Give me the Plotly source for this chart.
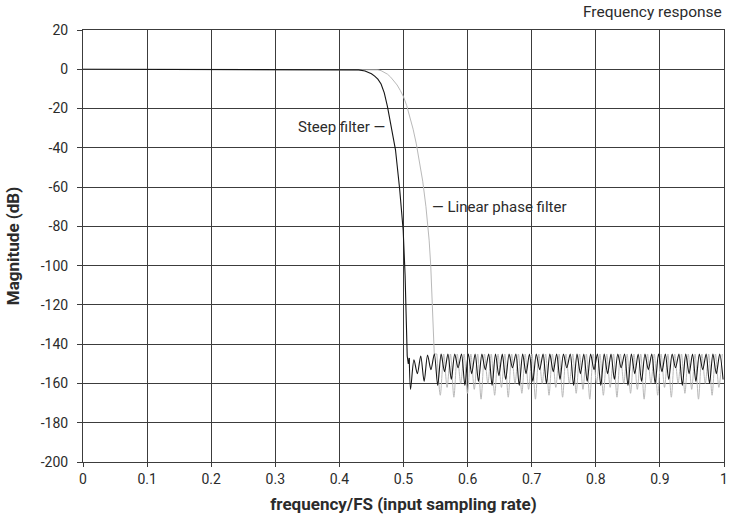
import plotly.graph_objects as go

# ---------------- data ----------------
# Steep filter: passband + transition band
steep_trans_f = [0.0, 0.1, 0.2, 0.3, 0.4, 0.42, 0.43, 0.44, 0.45, 0.455, 0.46, 0.465, 0.47,
                 0.475, 0.48, 0.4875, 0.494, 0.4995, 0.5025, 0.5045, 0.5058, 0.5075, 0.509]
steep_trans_db = [0, 0, 0, 0, 0, -0.1, -0.3, -0.9, -2.3, -3.5, -5.0, -7.5, -12,
                  -19, -28, -41, -61, -82, -105, -128, -146, -150, -147]
# Steep filter: stopband nulls and peaks
steep_null_f = [0.5110, 0.5216, 0.5322, 0.5428, 0.5534, 0.5640, 0.5746, 0.5852, 0.5958, 0.6064,
                0.6170, 0.6276, 0.6382, 0.6488, 0.6594, 0.6700, 0.6806, 0.6912, 0.7018, 0.7124,
                0.7230, 0.7336, 0.7442, 0.7548, 0.7654, 0.7760, 0.7866, 0.7972, 0.8078, 0.8184,
                0.8290, 0.8396, 0.8502, 0.8608, 0.8714, 0.8820, 0.8926, 0.9032, 0.9138, 0.9244,
                0.9350, 0.9456, 0.9562, 0.9668, 0.9774, 0.9880, 0.9986]
steep_null_db = [-163, -155, -159, -153, -161, -154, -158, -152, -161, -155,
                 -159, -153, -161, -156, -158, -152, -161, -155, -159, -153,
                 -160, -154, -158, -152, -161, -155, -159, -153, -161, -155,
                 -158, -152, -161, -155, -159, -153, -160, -154, -158, -152,
                 -161, -155, -159, -153, -160, -155, -158]
steep_peak_f = [0.5163, 0.5269, 0.5375, 0.5481, 0.5587, 0.5693, 0.5799, 0.5905, 0.6011, 0.6117,
                0.6223, 0.6329, 0.6435, 0.6541, 0.6647, 0.6753, 0.6859, 0.6965, 0.7071, 0.7177,
                0.7283, 0.7389, 0.7495, 0.7601, 0.7707, 0.7813, 0.7919, 0.8025, 0.8131, 0.8237,
                0.8343, 0.8449, 0.8555, 0.8661, 0.8767, 0.8873, 0.8979, 0.9085, 0.9191, 0.9297,
                0.9403, 0.9509, 0.9615, 0.9721, 0.9827, 0.9933]
steep_peak_db = [-148, -146, -145.5, -145, -145, -145, -145, -145, -145, -145,
                 -145, -145, -145, -145, -145, -145, -145, -145, -145, -145,
                 -145, -145, -145, -145, -145, -145, -145, -145, -145, -145,
                 -145, -145, -145, -145, -145, -145, -145, -145, -145, -145,
                 -145, -145, -145, -145, -145, -145]

# Linear phase filter: passband + transition band
lin_trans_f = [0.0, 0.1, 0.2, 0.3, 0.4, 0.45, 0.455, 0.46, 0.465, 0.47, 0.475, 0.48,
               0.485, 0.49, 0.495, 0.50, 0.505, 0.51, 0.515, 0.52, 0.525, 0.53,
               0.535, 0.54, 0.5425, 0.545, 0.548, 0.5521]
lin_trans_db = [0, 0, 0, 0, 0, 0, -0.1, -0.3, -0.7, -1.4, -2.5, -4.0,
                -5.8, -8.0, -10.8, -14, -18.5, -24, -30.5, -38, -47, -57,
                -70, -87, -100, -118, -145, -145]
# Linear phase filter: stopband peaks and nulls
lin_peak_f = [0.5627, 0.5733, 0.5839, 0.5945, 0.6051, 0.6157, 0.6263, 0.6369, 0.6475,
              0.6581, 0.6687, 0.6793, 0.6899, 0.7005, 0.7111, 0.7217, 0.7323, 0.7429, 0.7535,
              0.7641, 0.7747, 0.7853, 0.7959, 0.8065, 0.8171, 0.8277, 0.8383, 0.8489, 0.8595,
              0.8701, 0.8807, 0.8913, 0.9019, 0.9125, 0.9231, 0.9337, 0.9443, 0.9549, 0.9655,
              0.9761, 0.9867, 0.9973]
lin_peak_db = [-145, -145, -145, -145, -145, -145, -145, -145, -145,
               -145, -145, -145, -145, -145, -145, -145, -145, -145, -145,
               -145, -145, -145, -145, -145, -145, -145, -145, -145, -145,
               -145, -145, -145, -145, -145, -145, -145, -145, -145, -145,
               -145, -145, -145]
lin_null_f = [0.5574, 0.5680, 0.5786, 0.5892, 0.5998, 0.6104, 0.6210, 0.6316, 0.6422, 0.6528,
              0.6634, 0.6740, 0.6846, 0.6952, 0.7058, 0.7164, 0.7270, 0.7376, 0.7482, 0.7588,
              0.7694, 0.7800, 0.7906, 0.8012, 0.8118, 0.8224, 0.8330, 0.8436, 0.8542, 0.8648,
              0.8754, 0.8860, 0.8966, 0.9072, 0.9178, 0.9284, 0.9390, 0.9496, 0.9602, 0.9708,
              0.9814, 0.9920]
lin_null_db = [-166, -162, -167, -160, -165, -163, -168, -160, -166, -162,
               -167, -160, -165, -163, -168, -160, -166, -162, -167, -160,
               -165, -163, -168, -160, -166, -162, -167, -160, -165, -163,
               -168, -160, -166, -162, -167, -160, -165, -163, -168, -160,
               -166, -162]

x_ticks = [0, 0.1, 0.2, 0.3, 0.4, 0.5, 0.6, 0.7, 0.8, 0.9, 1]
x_tick_text = ["0", "0.1", "0.2", "0.3", "0.4", "0.5", "0.6", "0.7", "0.8", "0.9", "1"]
y_ticks = [20, 0, -20, -40, -60, -80, -100, -120, -140, -160, -180, -200]
y_tick_text = ["20", "0", "-20", "-40", "-60", "-80", "-100", "-120", "-140", "-160", "-180", "-200"]


def interleave(af, adb, bf, bdb):
    pts = sorted(list(zip(af, adb)) + list(zip(bf, bdb)))
    return [p[0] for p in pts], [p[1] for p in pts]


sf, sdb = interleave(steep_null_f, steep_null_db, steep_peak_f, steep_peak_db)
lf, ldb = interleave(lin_null_f, lin_null_db, lin_peak_f, lin_peak_db)

FONT = "Roboto, 'Open Sans', sans-serif"
TXT = "#2b2b2b"
GRID = "#3c3c3c"
GRAY = "#b9b9b9"
BLACK = "#161616"

fig = go.Figure()
# linear phase filter (light grey)
fig.add_trace(go.Scatter(x=lin_trans_f, y=lin_trans_db, mode="lines",
                         line=dict(color=GRAY, width=1), showlegend=False, hoverinfo="skip"))
fig.add_trace(go.Scatter(x=lin_trans_f[-1:] + lf, y=lin_trans_db[-1:] + ldb, mode="lines",
                         line=dict(color=GRAY, width=1, shape="spline", smoothing=0.8),
                         showlegend=False, hoverinfo="skip"))
# steep filter (black)
fig.add_trace(go.Scatter(x=steep_trans_f, y=steep_trans_db, mode="lines",
                         line=dict(color=BLACK, width=1.1), showlegend=False, hoverinfo="skip"))
fig.add_trace(go.Scatter(x=steep_trans_f[-1:] + sf, y=steep_trans_db[-1:] + sdb, mode="lines",
                         line=dict(color=BLACK, width=1.1, shape="spline", smoothing=0.8),
                         showlegend=False, hoverinfo="skip"))

fig.add_annotation(x=0.475, y=-29.5, xref="x", yref="y", text="Steep filter —",
                   showarrow=False, xanchor="right", yanchor="middle",
                   font=dict(family=FONT, size=15, color=TXT))
fig.add_annotation(x=0.542, y=-70, xref="x", yref="y", text="— Linear phase filter",
                   showarrow=False, xanchor="left", yanchor="middle",
                   font=dict(family=FONT, size=15, color=TXT))
fig.add_annotation(x=1, y=1, xref="paper", yref="paper", yshift=18,
                   text="Frequency response", showarrow=False,
                   xanchor="right", yanchor="middle",
                   font=dict(family=FONT, size=15.5, color=TXT))

fig.update_layout(
    width=731, height=520,
    margin=dict(l=83, r=7, t=30, b=58),
    paper_bgcolor="white", plot_bgcolor="white",
    font=dict(family=FONT, size=14, color=TXT),
    showlegend=False,
)
fig.update_xaxes(range=[0, 1], tickvals=x_ticks, ticktext=x_tick_text, automargin=False,
                 showgrid=True, gridcolor=GRID, gridwidth=1,
                 showline=True, linecolor=GRID, linewidth=1, mirror=True,
                 ticks="outside", ticklen=4, tickcolor=GRID, zeroline=False,
                 tickfont=dict(family=FONT, size=14, color=TXT),
                 title=dict(text="<b>frequency/FS (input sampling rate)</b>",
                            font=dict(family=FONT, size=17, color=TXT), standoff=12))
fig.update_yaxes(range=[-200, 20], tickvals=y_ticks, ticktext=y_tick_text, automargin=False,
                 showgrid=True, gridcolor=GRID, gridwidth=1,
                 showline=True, linecolor=GRID, linewidth=1, mirror=True,
                 ticks="outside", ticklen=5, tickcolor=GRID, zeroline=False,
                 tickfont=dict(family=FONT, size=14, color=TXT),
                 ticklabelstandoff=6,
                 title=dict(text="<b>Magnitude (dB)</b>",
                            font=dict(family=FONT, size=17, color=TXT), standoff=16))

fig.write_html("out.html")
